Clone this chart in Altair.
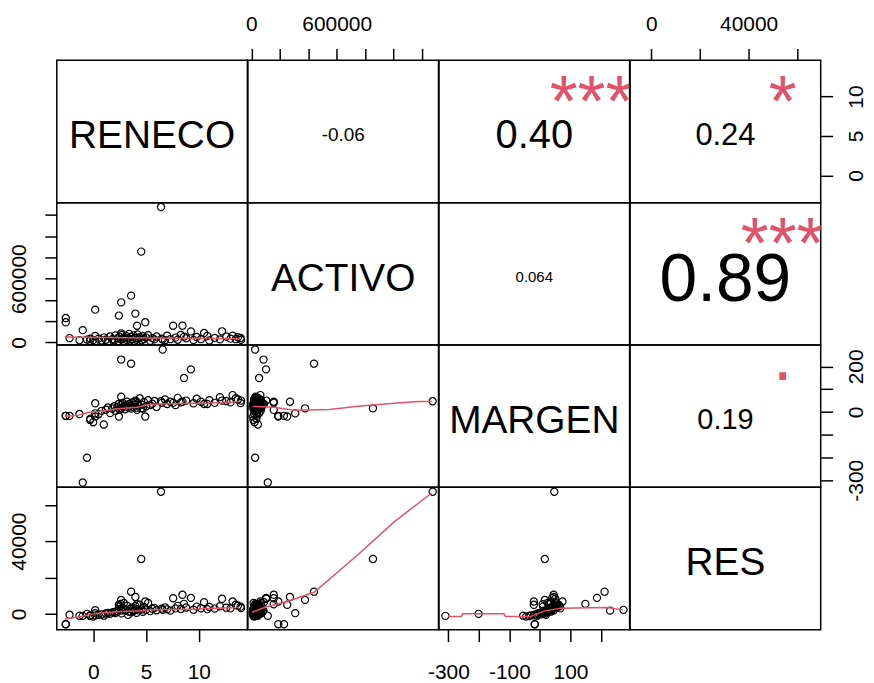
import altair as alt
import pandas as pd

FONT = "Liberation Sans"
RED = "#DF536B"
W = 191.5
H = 143

VARS = ["RENECO", "ACTIVO", "MARGEN", "RES"]

# ---- data (outliers first, then the dense cloud) ----
RENECO = [6.42, 4.55, 3.59, 6.58, 2.65, 9.25, 8.60, -0.59, -0.99, 2.65, 0.19, 2.43, 3.99, 4.93, 4.15,
          -2.60, -2.60, 7.57, 8.45, 10.50, 12.20, 13.20, 13.96, 13.50, -2.24, 0.19, 2.65, -1.30, -0.28,
          -0.3, 0.0, 0.2, 0.5, 0.8, 1.0, 1.2, 1.4, 1.6, 1.8, 2.0, 2.1, 2.3, 2.4, 2.5, 2.6, 2.7, 2.8, 2.9, 3.0,
          3.1, 3.2, 3.3, 3.4, 3.5, 3.6, 3.7, 3.8, 3.9, 4.0, 4.1, 4.2, 4.3, 4.4, 4.6, 4.7, 4.8, 5.0, 5.2, 5.4,
          5.6, 5.8, 6.0, 6.5, 6.8, 7.0, 7.3, 7.8, 8.0, 8.3, 8.8, 9.5, 9.8, 10.2, 10.8, 11.0, 11.5, 12.0, 12.6, 13.0,
          13.7, 14.0]
ACTIVO = [1275000, 855000, 440000, 26000, 85000, 103000, 54000, 26000, 115000, 377000, 308000, 252000, 271000,
          189000, 157000, 229000, 189000, 157000, 157000, 88000, 104000, 63000, 41000, 30000, 40000, 60000, 30000,
          20000, 35000,
          15000, 22000, 12000, 35000, 18000, 45000, 25000, 8000, 55000, 30000, 20000, 65000, 40000, 12000, 50000,
          28000, 70000, 35000, 15000, 45000, 60000, 22000, 38000, 80000, 18000, 52000, 30000, 66000, 12000, 42000,
          25000, 75000, 35000, 48000, 20000, 58000, 32000, 45000, 68000, 15000, 40000, 28000, 55000, 35000, 20000,
          62000, 30000, 45000, 25000, 70000, 38000, 22000, 50000, 30000, 60000, 18000, 42000, 28000, 55000, 35000,
          48000, 25000]
MARGEN = [47, 16, 212, 274, 230, 187, 149, -201, -310, 16, -6, -20, 45, -20, 9, -17, -17, 40, 45, 35, 50, 74,
          39, 60, -17, 38, 67, -9, -30,
          -35, -45, -20, -10, 5, -55, 10, 20, -5, 15, 25, 5, 20, 35, 10, 30, 18, 40, 25, 12, 30, 45, 20, 35, 28,
          15, 42, 22, 33, 50, 18, 38, 27, 60, 32, 15, 44, 25, 52, 30, 36, 48, 22, 40, 55, 35, 45, 30, 62, 42, 50,
          38, 58, 45, 35, 52, 40, 65, 48, 42, 55, 50]
RES = [67200, 30200, 12200, 2200, 1800, 8800, 5500, 0, -1100, 7700, 400, 5000, 9300, 6800, 5300, -5700, -5700,
       8600, 10500, 6400, 8300, 6800, 4000, 5000, -500, 2000, 3000, -1000, -800,
       -1200, -1500, -800, -500, -300, -1000, 200, 500, 0, 800, 1000, 500, 1500, 2500, 4000, 5500, 300, 3200,
       6000, 1800, 2200, 4500, -500, 1200, 2800, 900, 3500, 1600, 2000, 4200, 600, 2600, 1900, 5000, 2400, 1100,
       3800, 2200, 6000, 1500, 2800, 3300, 2000, 2900, 3600, 2500, 1800, 3000, 4400, 2700, 3500, 2300, 4000,
       3100, 2600, 3800, 2900, 4200, 3400, 3000, 4500, 3200]

assert len(RENECO) == len(ACTIVO) == len(MARGEN) == len(RES)

# smoother lines (red), keyed (row, col)
SMOOTH_X = {
    (1, 0): [-2.7, 3.0, 8.0, 13.9],
    (2, 0): [-2.71, -1.46, -0.37, 0.72, 2.28, 4.15, 5.23, 6.95, 10.07, 12.56, 13.8],
    (3, 0): [-2.7, -1.15, 0.4, 2.6, 4.45, 5.4, 9.4, 11.6, 13.8],
    (2, 1): [7000, 160000, 302000, 549000, 750000, 961000, 1173000, 1272000],
    (3, 1): [5000, 90000, 254000, 443000, 749000, 1008000, 1268000],
    (3, 2): [-301, -258, -253, -118, -113, -32, 16, 70, 220, 272],
}
SMOOTH_Y = {
    (1, 0): [50000, 44000, 38000, 35000],
    (2, 0): [-19.6, -15, -0.9, 3.5, 13.9, 20.9, 32.6, 35.6, 38.3, 40, 45.7],
    (3, 0): [-2900, -1500, 400, 1300, 1700, 2200, 2600, 3100, 3500],
    (2, 1): [24, 21, 7, 11, 25, 36, 46, 46],
    (3, 1): [900, 3500, 6800, 12000, 32500, 50900, 66500],
    (3, 2): [-1500, -1500, 0, 0, -1500, -1500, 1650, 3150, 3470, 2200],
}

DOMAINS = {"RENECO": [-3.45, 14.6], "ACTIVO": [-25000, 1316000],
           "MARGEN": [-331, 294], "RES": [-8700, 69600]}
TICKS = {"RENECO": [0, 5, 10],
         "ACTIVO": [0, 200000, 400000, 600000, 800000, 1000000, 1200000],
         "MARGEN": [-300, -200, -100, 0, 100, 200],
         "RES": [0, 20000, 40000, 60000]}
SHOWN = {("ACTIVO", "top"): [0, 600000], ("RES", "top"): [0, 40000],
         ("RENECO", "bottom"): [0, 5, 10], ("MARGEN", "bottom"): [-300, -100, 100],
         ("ACTIVO", "left"): [0, 600000], ("RES", "left"): [0, 40000],
         ("RENECO", "right"): [0, 5, 10], ("MARGEN", "right"): [200, 0, -300]}

COR_TEXT = {(0, 1): "-0.06", (0, 2): "0.40", (0, 3): "0.24",
            (1, 2): "0.064", (1, 3): "0.89", (2, 3): "0.19"}
COR_SIZE = {(0, 1): 19, (0, 2): 40, (0, 3): 31, (1, 2): 15, (1, 3): 68, (2, 3): 29}
STARS = {(0, 2): "***", (0, 3): "*", (1, 3): "***", (2, 3): "."}

X_AXES = {(0, 1): "top", (0, 3): "top", (3, 0): "bottom", (3, 2): "bottom"}
Y_AXES = {(1, 0): "left", (3, 0): "left", (0, 3): "right", (2, 3): "right"}

df = pd.DataFrame({"RENECO": RENECO, "ACTIVO": ACTIVO, "MARGEN": MARGEN, "RES": RES})


def make_axis(var, orient):
    shown = SHOWN[(var, orient)]
    cond = " || ".join(f"datum.value == {v}" for v in shown)
    expr = f"({cond}) ? '' + datum.value : ''"
    kw = dict(orient=orient, values=TICKS[var], labelExpr=expr, tickSize=12, tickWidth=1.5,
              tickColor="black", domain=False, grid=False, title=None, labelFont=FONT,
              labelFontSize=21, labelColor="black", labelOverlap=False, labelBound=False,
              labelFlush=False)
    if orient == "top":
        kw.update(labelAngle=0, labelAlign="center", labelBaseline="bottom", labelPadding=14)
    elif orient == "bottom":
        kw.update(labelAngle=0, labelAlign="center", labelBaseline="top", labelPadding=20)
    elif orient == "left":
        kw.update(labelAngle=270, labelAlign="center", labelBaseline="bottom", labelPadding=15)
    else:
        kw.update(labelAngle=270, labelAlign="center", labelBaseline="top", labelPadding=13)
    return alt.Axis(**kw)


def enc_x(field, var, axis):
    return alt.X(f"{field}:Q", scale=alt.Scale(domain=DOMAINS[var], nice=False, zero=False), axis=axis)


def enc_y(field, var, axis):
    return alt.Y(f"{field}:Q", scale=alt.Scale(domain=DOMAINS[var], nice=False, zero=False), axis=axis)


def frac(var, f):
    lo, hi = DOMAINS[var]
    return lo + f * (hi - lo)


panels = []
for i, yv in enumerate(VARS):
    for j, xv in enumerate(VARS):
        xa = make_axis(xv, X_AXES[(i, j)]) if (i, j) in X_AXES else None
        ya = make_axis(yv, Y_AXES[(i, j)]) if (i, j) in Y_AXES else None
        if i == j:
            t = pd.DataFrame({"x": [frac(xv, 0.5)], "y": [frac(yv, 0.5)], "t": [xv]})
            ch = alt.Chart(t).mark_text(font=FONT, fontSize=39, color="black", baseline="alphabetic",
                                        dy=17, clip=True).encode(
                x=enc_x("x", xv, xa), y=enc_y("y", yv, ya), text="t:N")
        elif i < j:
            fs = COR_SIZE[(i, j)]
            t = pd.DataFrame({"x": [frac(xv, 0.5)], "y": [frac(yv, 0.5)], "t": [COR_TEXT[(i, j)]]})
            ch = alt.Chart(t).mark_text(font=FONT, fontSize=fs, color="black", baseline="alphabetic",
                                        dy=round(3 + 0.358 * fs), clip=True).encode(
                x=enc_x("x", xv, xa), y=enc_y("y", yv, ya), text="t:N")
            if (i, j) in STARS:
                s = STARS[(i, j)]
                sd = pd.DataFrame({"x": [frac(xv, 0.8)], "y": [frac(yv, 0.8)], "t": [s]})
                star = alt.Chart(sd).mark_text(font=FONT, fontSize=72, color=RED, baseline="middle",
                                               dy=(15 if s != "." else -15), clip=True).encode(
                    x=enc_x("x", xv, xa), y=enc_y("y", yv, ya), text="t:N")
                ch = alt.layer(ch, star)
        else:
            pts = alt.Chart(df).mark_point(shape="circle", filled=False, color="black", size=52,
                                           strokeWidth=1.2, opacity=1, clip=True).encode(
                x=enc_x(xv, xv, xa), y=enc_y(yv, yv, ya))
            sm = pd.DataFrame({"x": SMOOTH_X[(i, j)], "y": SMOOTH_Y[(i, j)]})
            line = alt.Chart(sm).mark_line(color=RED, strokeWidth=1.5, clip=True).encode(
                x=enc_x("x", xv, xa), y=enc_y("y", yv, ya))
            ch = alt.layer(pts, line)
        panels.append(ch.properties(width=W, height=H))

chart = alt.concat(*panels, columns=4, spacing=0, bounds="flush").properties(
    padding={"left": 0, "right": -2, "top": 3, "bottom": 0}
).configure(background="white").configure_view(stroke="black", strokeWidth=1.5)

chart.save("out.html", embed_options={"renderer": "svg", "actions": False})
